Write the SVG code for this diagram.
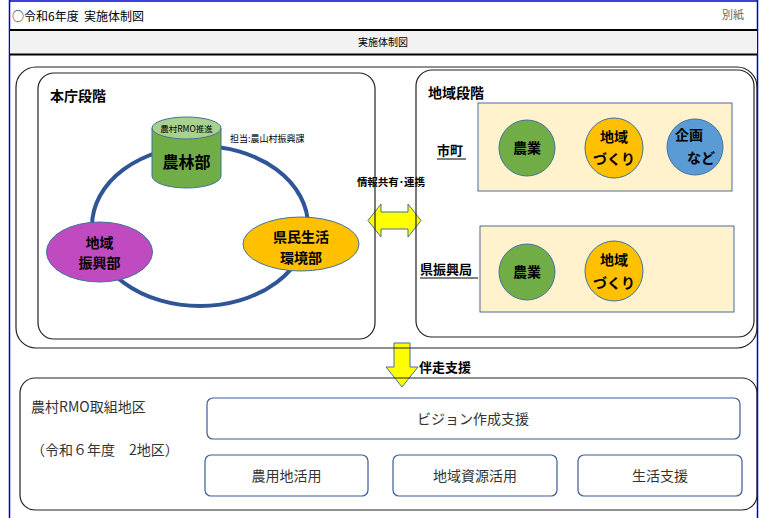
<svg xmlns="http://www.w3.org/2000/svg" width="761" height="518" viewBox="0 0 761 518">
<defs>
<style>
text{font-family:"Noto Sans CJK JP","Noto Sans",sans-serif;fill:#000}
.b{font-weight:bold}
.frame{fill:none;stroke:#222;stroke-width:1.2}
.panel{fill:#fff2cc;stroke:#4a6a9a;stroke-width:1}
.sbox{fill:#fff;stroke:#3a5a9a;stroke-width:1.2}
.nd{stroke:#41719c;stroke-width:1}
</style>
</defs>
<rect x="0" y="0" width="761" height="518" fill="#fff"/>
<!-- page border -->
<line x1="9.5" y1="0" x2="9.5" y2="518" stroke="#0000cc" stroke-width="1.5"/>
<line x1="757.5" y1="0" x2="757.5" y2="518" stroke="#0000cc" stroke-width="1.5"/>
<line x1="9" y1="1" x2="758" y2="1" stroke="#0000cc" stroke-width="1.5"/>
<!-- header -->
<text x="12" y="21" font-size="12" style="white-space:pre">○令和6年度  実施体制図</text>
<text x="722" y="19" font-size="11" style="fill:#666">別紙</text>
<rect x="10" y="30" width="747" height="24" fill="#f2f2f2"/>
<line x1="10" y1="30" x2="757" y2="30" stroke="#000" stroke-width="2"/>
<line x1="10" y1="54.5" x2="757" y2="54.5" stroke="#000" stroke-width="2"/>
<text x="383" y="46" font-size="10" text-anchor="middle">実施体制図</text>

<!-- connectors -->
<g id="connectors">
<ellipse cx="200" cy="226" rx="108" ry="80" fill="none" stroke="#2f5597" stroke-width="4"/>
<polygon points="368,220.5 381,204 381,212 408,212 408,204 421,220.5 408,237 408,229 381,229 381,237" fill="#ffff00" stroke="#41719c" stroke-width="1"/>
<polygon points="394,343 410,343 410,367 418,367 402,387 386,367 394,367" fill="#ffff00" stroke="#41719c" stroke-width="1"/>
<text x="391" y="186" font-size="10.5" class="b" text-anchor="middle">情報共有･連携</text>
<text x="419" y="372" font-size="13" class="b">伴走支援</text>
</g>

<!-- frames -->
<rect x="16" y="67" width="741" height="281" rx="20" class="frame" stroke="#444"/>
<g id="honcho">
<rect x="38" y="73" width="337" height="266" rx="16" class="frame"/>
<text x="50" y="101" font-size="14" class="b">本庁段階</text>
</g>
<g id="chiiki">
<rect x="416" y="70" width="338" height="267" rx="16" class="frame"/>
<text x="428" y="98" font-size="14" class="b">地域段階</text>
</g>

<!-- 農林部 cylinder -->
<g id="norinbu">
<path d="M152,128 L152,176 A34.5,12 0 0 0 221,176 L221,128 Z" fill="#70ad47" class="nd"/>
<ellipse cx="186.5" cy="128" rx="34.5" ry="11" fill="#a9d18e" class="nd"/>
<text x="186.5" y="132" font-size="8.5" text-anchor="middle">農村RMO推進</text>
<text x="186.5" y="168" font-size="16" class="b" text-anchor="middle">農林部</text>
<text x="230" y="142" font-size="9">担当:農山村振興課</text>
</g>
<g id="chiikishinkobu">
<ellipse cx="99.5" cy="252" rx="53" ry="30" fill="#c04bc0" class="nd"/>
<text x="99.5" y="248" font-size="14" class="b" text-anchor="middle">地域</text>
<text x="99.5" y="268" font-size="14" class="b" text-anchor="middle">振興部</text>
</g>
<g id="kenmin">
<ellipse cx="301" cy="244" rx="58" ry="27" fill="#ffc000" class="nd"/>
<text x="301" y="242" font-size="14" class="b" text-anchor="middle">県民生活</text>
<text x="301" y="263" font-size="14" class="b" text-anchor="middle">環境部</text>
</g>

<!-- 市町 -->
<g id="shicho">
<text x="437" y="155" font-size="13" class="b">市町</text>
<line x1="437" y1="159" x2="466" y2="159" stroke="#000" stroke-width="1"/>
<rect x="478" y="103" width="254" height="88" class="panel"/>
<circle cx="527" cy="148" r="28" fill="#70ad47" class="nd"/>
<text x="527" y="153" font-size="14" class="b" text-anchor="middle">農業</text>
<ellipse cx="614" cy="148" rx="29" ry="30" fill="#ffc000" class="nd"/>
<text x="614" y="142" font-size="14" class="b" text-anchor="middle">地域</text>
<text x="614" y="164" font-size="14" class="b" text-anchor="middle">づくり</text>
<circle cx="695" cy="147" r="28" fill="#5b9bd5" class="nd"/>
<text x="689" y="140" font-size="14" class="b" text-anchor="middle">企画</text>
<text x="701" y="163" font-size="14" class="b" text-anchor="middle">など</text>
</g>
<!-- 県振興局 -->
<g id="kenshinkokyoku">
<text x="420" y="274" font-size="13" class="b">県振興局</text>
<line x1="420" y1="278" x2="478" y2="278" stroke="#000" stroke-width="1"/>
<rect x="480" y="226" width="254" height="86" class="panel"/>
<circle cx="527" cy="272" r="28" fill="#70ad47" class="nd"/>
<text x="527" y="277" font-size="14" class="b" text-anchor="middle">農業</text>
<ellipse cx="614" cy="271" rx="29" ry="30" fill="#ffc000" class="nd"/>
<text x="614" y="265" font-size="14" class="b" text-anchor="middle">地域</text>
<text x="614" y="288" font-size="14" class="b" text-anchor="middle">づくり</text>
</g>

<!-- bottom -->
<g id="rmo">
<rect x="20" y="378" width="737" height="132" rx="15" class="frame"/>
<text x="31" y="412" font-size="14" style="fill:#333">農村RMO取組地区</text>
<text x="31" y="455" font-size="14" style="fill:#333">（令和６年度　2地区）</text>
</g>
<g id="vision">
<rect x="207" y="398" width="533" height="41" rx="6" class="sbox"/>
<text x="473" y="424" font-size="14" text-anchor="middle" style="fill:#333">ビジョン作成支援</text>
</g>
<g id="noyochi">
<rect x="205" y="455" width="163" height="41" rx="6" class="sbox"/>
<text x="286.5" y="481" font-size="14" text-anchor="middle" style="fill:#333">農用地活用</text>
</g>
<g id="chiikishigen">
<rect x="393" y="455" width="164" height="41" rx="6" class="sbox"/>
<text x="475" y="481" font-size="14" text-anchor="middle" style="fill:#333">地域資源活用</text>
</g>
<g id="seikatsu">
<rect x="578" y="455" width="164" height="41" rx="6" class="sbox"/>
<text x="660" y="481" font-size="14" text-anchor="middle" style="fill:#333">生活支援</text>
</g>
</svg>
